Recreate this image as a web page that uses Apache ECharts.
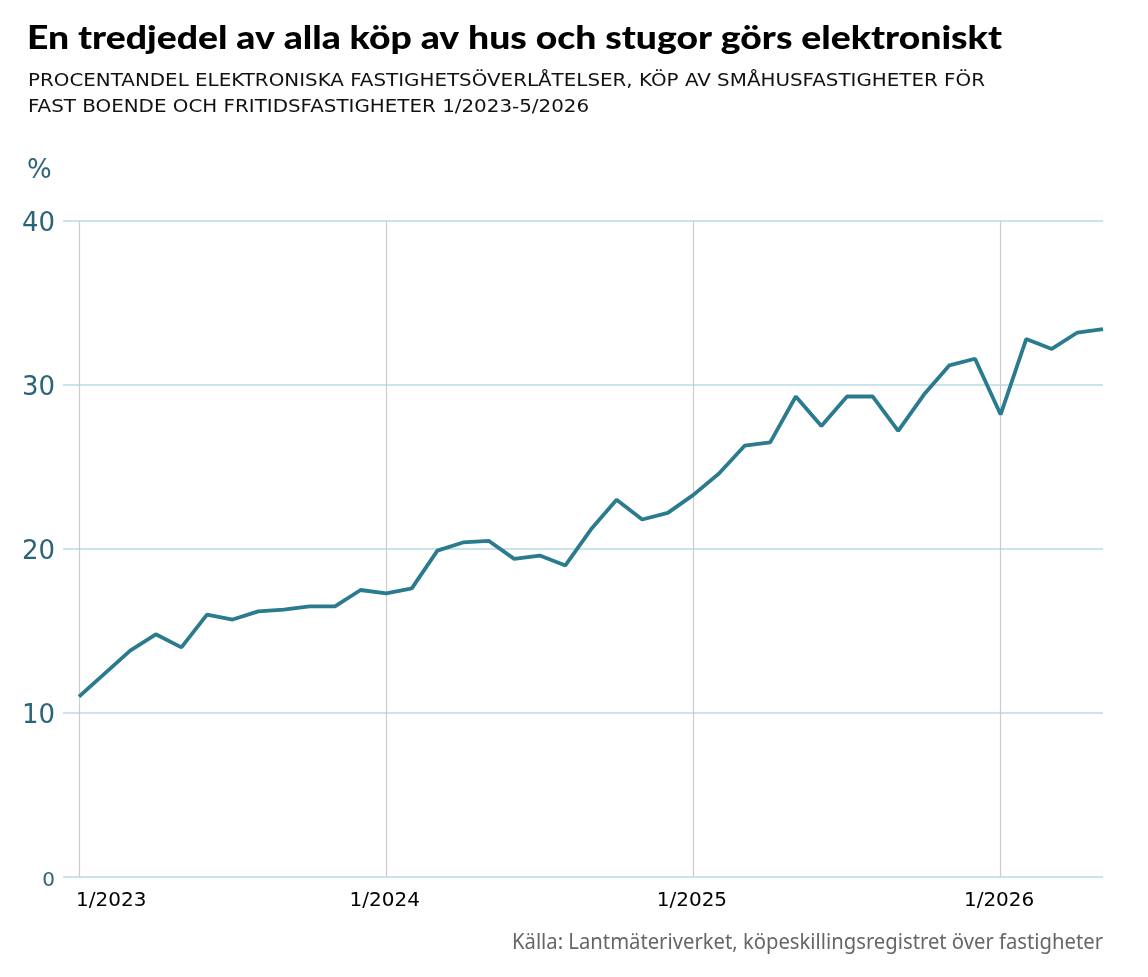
<!DOCTYPE html>
<html>
<head>
<meta charset="utf-8">
<script src="https://cdn.jsdelivr.net/npm/echarts@6/dist/echarts.min.js"></script>
<style>
  html, body { margin: 0; padding: 0; background: #fff; }
  #chart { width: 1148px; height: 977px; }
</style>
</head>
<body>
<div id="chart"></div>
<script>
// månader 1/2023 - 5/2026
var months = [
  '1/2023','2/2023','3/2023','4/2023','5/2023','6/2023','7/2023','8/2023','9/2023','10/2023','11/2023','12/2023',
  '1/2024','2/2024','3/2024','4/2024','5/2024','6/2024','7/2024','8/2024','9/2024','10/2024','11/2024','12/2024',
  '1/2025','2/2025','3/2025','4/2025','5/2025','6/2025','7/2025','8/2025','9/2025','10/2025','11/2025','12/2025',
  '1/2026','2/2026','3/2026','4/2026','5/2026'
];
// andel elektroniska överlåtelser, %
var share = [
  11.0, 12.4, 13.8, 14.8, 14.0, 16.0, 15.7, 16.2, 16.3, 16.5, 16.5, 17.5,
  17.3, 17.6, 19.9, 20.4, 20.5, 19.4, 19.6, 19.0, 21.2, 23.0, 21.8, 22.2,
  23.3, 24.6, 26.3, 26.5, 29.3, 27.5, 29.3, 29.3, 27.2, 29.4, 31.2, 31.6,
  28.2, 32.8, 32.2, 33.2, 33.4
];
// tick labels on x (index into months)
var yearTicks = [0, 12, 24, 36];

var titleText = 'En tredjedel av alla köp av hus och stugor görs elektroniskt';
var subLine1 = 'PROCENTANDEL ELEKTRONISKA FASTIGHETSÖVERLÅTELSER, KÖP AV SMÅHUSFASTIGHETER FÖR';
var subLine2 = 'FAST BOENDE OCH FRITIDSFASTIGHETER 1/2023-5/2026';
var sourceText = 'Källa: Lantmäteriverket, köpeskillingsregistret över fastigheter';

var teal = '#2a7b8e';
var labelTeal = '#2b6479';

var titleFont = '900 32px Lato, "DejaVu Sans", sans-serif';
var subFont = '18px "DejaVu Sans", sans-serif';
var srcFont = '21px "Noto Sans", sans-serif';

// skala texten så att den får samma bredd som i originalet
var measureCtx = document.createElement('canvas').getContext('2d');
function fitScale(text, font, width) {
  measureCtx.font = font;
  return width / measureCtx.measureText(text).width;
}
var titleScale = fitScale(titleText, titleFont, 975);
var subScale = fitScale(subLine1, subFont, 957);
var srcScale = fitScale(sourceText, srcFont, 591);

var chart = echarts.init(document.getElementById('chart'));

var option = {
  backgroundColor: '#fff',
  animation: false,
  graphic: [
    {
      type: 'text', x: 27, y: 39, scaleX: titleScale,
      style: { text: titleText, font: titleFont, fill: '#000', textVerticalAlign: 'middle' }
    },
    {
      type: 'text', x: 28, y: 81, scaleX: subScale,
      style: { text: subLine1, font: subFont, fill: '#111', textVerticalAlign: 'middle' }
    },
    {
      type: 'text', x: 28, y: 107, scaleX: subScale,
      style: { text: subLine2, font: subFont, fill: '#111', textVerticalAlign: 'middle' }
    },
    {
      type: 'text', x: 27, y: 171,
      style: { text: '%', font: '500 26px "DejaVu Sans", sans-serif', fill: labelTeal, textVerticalAlign: 'middle' }
    },
    {
      type: 'text', x: 1103, y: 943, scaleX: srcScale, originX: 0,
      style: { text: sourceText, font: srcFont, fill: '#666', textAlign: 'right', textVerticalAlign: 'middle' }
    }
  ],
  grid: { left: 63, right: 45, top: 221, bottom: 100, containLabel: false },
  xAxis: {
    type: 'value',
    min: -0.625,
    max: months.length - 1,
    splitLine: { show: false },
    axisLine: { show: false },
    axisTick: { show: false },
    axisLabel: {
      customValues: yearTicks,
      formatter: function (v) { return months[Math.round(v)]; },
      fontFamily: '"DejaVu Sans", sans-serif',
      fontSize: 20,
      color: '#000',
      margin: 14,
      alignMinLabel: 'left',
      padding: [0, 0, 0, -3]
    }
  },
  yAxis: {
    type: 'value',
    min: 0, max: 40, interval: 10,
    axisLine: { show: false },
    axisTick: { show: false },
    splitLine: { lineStyle: { color: '#b8dbe5', width: 1.5 } },
    axisLabel: {
      margin: 8,
      padding: [7, 0, 0, 0],
      formatter: function (v) { return v === 0 ? '{z|0}' : String(v); },
      fontFamily: '"DejaVu Sans", sans-serif',
      fontSize: 26,
      color: labelTeal,
      rich: { z: { fontSize: 20, color: labelTeal, fontFamily: '"DejaVu Sans", sans-serif' } }
    }
  },
  series: [{
    type: 'line',
    data: share.map(function (v, i) { return [i, v]; }),
    symbol: 'none',
    lineStyle: { color: teal, width: 3.8 },
    z: 5,
    markLine: {
      silent: true,
      symbol: 'none',
      label: { show: false },
      lineStyle: { color: '#cccccc', width: 1.2, type: 'solid' },
      z: 1,
      data: yearTicks.map(function (t) { return { xAxis: t }; })
    }
  }]
};

chart.setOption(option);
</script>
</body>
</html>
